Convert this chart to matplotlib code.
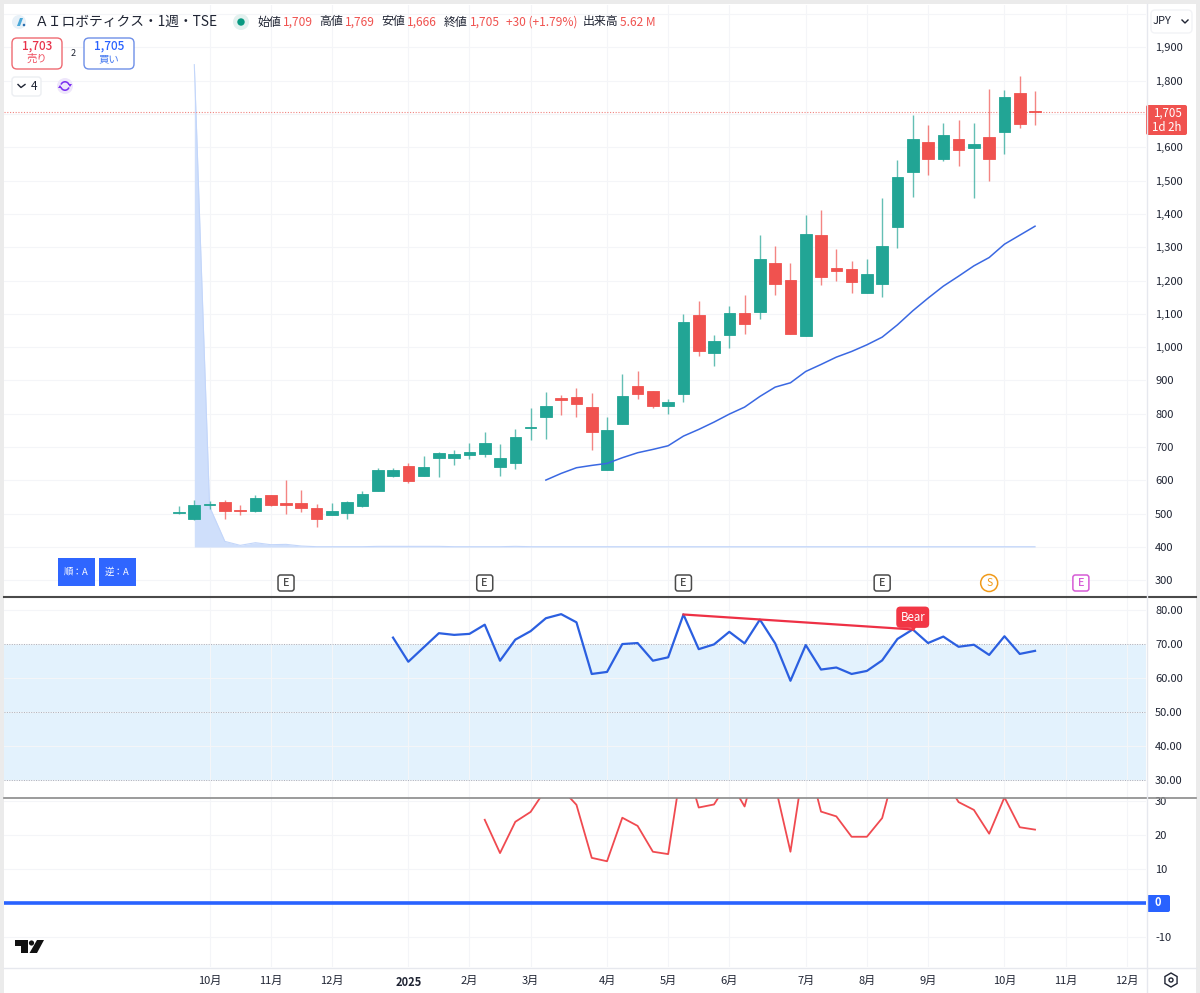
import numpy as np
import matplotlib
matplotlib.use('Agg')
import matplotlib.pyplot as plt
from matplotlib.patches import FancyBboxPatch, Rectangle, Circle, Polygon, RegularPolygon, Wedge

plt.rcParams['font.family'] = ['Noto Sans CJK JP', 'DejaVu Sans']

# ---------- data ----------
opens = [502,484,527,535,510,507,556,531,531,516,496,503,524,569,614,644,614,666,668,675,679,641,652,756,789,847,850,819,631,770,882,869,822,858,1097,983,1035,1103,1105,1252,1201,1033,1336,1239,1236,1163,1189,1362,1526,1616,1566,1626,1598,1632,1645,1764,1709]
highs = [523,541,539,540,527,555,556,600,570,528,531,537,568,636,638,651,674,685,690,713,745,708,755,818,866,857,877,862,791,920,929,869,845,1098,1139,1035,1123,1156,1338,1304,1252,1397,1412,1296,1260,1265,1447,1561,1696,1666,1672,1681,1672,1776,1773,1813,1769]
lows = [498,481,514,484,495,505,524,500,506,459,495,484,521,568,609,593,612,610,645,665,671,614,633,720,723,797,789,690,631,770,845,817,800,835,974,943,997,1040,1085,1157,1040,1033,1187,1198,1164,1163,1151,1297,1451,1517,1558,1544,1447,1498,1579,1659,1666]
closes = [505,527,528,507,509,546,526,526,517,484,508,535,560,630,630,599,640,682,680,684,713,667,731,761,823,841,829,745,751,854,858,824,836,1076,987,1018,1103,1070,1265,1190,1040,1340,1212,1229,1197,1219,1303,1511,1626,1564,1636,1591,1611,1566,1750,1671,1705]

ma_start = 24
ma_values = [601,621,638,645,651,668,683,693,704,733,753,775,799,820,852,880,893,927,948,970,987,1007,1030,1067,1109,1147,1183,1213,1244,1269,1309,1336,1363]

vol_start = 1
vol_values = [1848,521,417,405,413,407,408,403,401,401,401,401,402,402,402,402,402,401,401,401,401,402,401,401,401,401,401,401,401,401,401,401,401,401,401,401,401,401,401,401,401,401,401,401,401,401,401,401,401,401,401,401,401,401,401,401]

rsi_start = 14
rsi_values = [72.0,64.9,69.1,73.3,72.8,73.1,75.8,65.2,71.4,73.9,77.7,78.9,76.5,61.3,61.9,70.1,70.4,65.2,66.2,78.8,68.6,70.0,73.7,70.3,77.3,70.3,59.3,69.8,62.6,63.2,61.3,62.2,65.3,71.6,74.4,70.4,72.3,69.3,69.9,66.9,72.4,67.2,68.1]
trend_x = [33, 48]
trend_y = [78.8, 74.4]

osc_start = 20
osc_values = [24.6,14.8,24.0,26.9,33.6,33.8,29.0,13.4,12.4,25.2,22.8,15.2,14.5,43.5,28.2,29.1,36.2,28.5,45.0,34.7,15.2,44.5,27.0,25.6,19.6,19.6,25.1,42.0,40.0,40.0,37.0,29.8,27.5,20.5,31.2,22.4,21.7]

month_pos = [2,6,10,15,19,23,28,32,36,41,45,49,54,58,62]
month_labels = ['10月','11月','12月','2025','2月','3月','4月','5月','6月','7月','8月','9月','10月','11月','12月']
price_ticks = list(range(300, 2001, 100))
hidden_price_ticks = [1700, 2000]
rsi_ticks = [30,40,50,60,70,80]
osc_ticks = [-10,10,20,30]
earn_pos = [7,20,33,46,59]
split_pos = [53]
last_price = 1705

# ---------- colours ----------
GREEN = '#22a595'
RED = '#f0524f'
BLUE = '#2962ff'
GRID = '#f4f5f8'
TXT = '#1f2433'
W, H = 1200, 993

fig = plt.figure(figsize=(12, 9.93), dpi=100, facecolor='white')

def pane(top, bottom):
    a = fig.add_axes([4/W, 1-bottom/H, (1146-4)/W, (bottom-top)/H])
    a.set_xlim(-11.45, 63.26)
    for s in a.spines.values():
        s.set_visible(False)
    a.grid(True, color=GRID, lw=0.8)
    a.set_axisbelow(True)
    a.yaxis.tick_right()
    a.tick_params(axis='y', length=0, pad=6.5, labelsize=8, labelcolor=TXT)
    a.tick_params(axis='x', length=0, labelsize=8, labelcolor=TXT)
    a.set_xticks(month_pos)
    return a

# ---------- price pane ----------
ax1 = pane(5, 596.5)
ax1.set_ylim(251.5, 2027)
ax1.set_yticks(price_ticks)
ax1.set_yticklabels(['' if p in hidden_price_ticks else f'{p:,}' for p in price_ticks])
ax1.set_xticklabels([])

vx = np.arange(vol_start, vol_start + len(vol_values))
ax1.fill_between(vx, 400, vol_values, color='#cfdffb', lw=0, zorder=1)
ax1.plot(vx, vol_values, color='#c3d6fa', lw=0.8, zorder=1)

o, h, l, c = map(np.array, (opens, highs, lows, closes))
x = np.arange(len(o))
cols = [GREEN if ci >= oi else RED for oi, ci in zip(o, c)]
ax1.vlines(x, l, h, colors=cols, lw=1, alpha=0.7, zorder=2)
ax1.bar(x, np.abs(c-o), bottom=np.minimum(o, c), width=0.76, color=cols, edgecolor=cols, lw=0.6, zorder=3)
ax1.plot(np.arange(ma_start, ma_start+len(ma_values)), ma_values, color='#3a68e2', lw=1.1, zorder=4)
ax1.axhline(last_price, color='#f0837f', lw=0.8, ls=(0, (1, 1.5)), zorder=1.5)

# ---------- RSI pane ----------
ax2 = pane(597.5, 797)
ax2.set_ylim(25.1, 83.8)
ax2.set_yticks(rsi_ticks)
ax2.set_yticklabels([f'{v:.2f}' for v in rsi_ticks])
ax2.set_xticklabels([])
ax2.axhspan(30, 70, color='#e3f2fd', lw=0, zorder=0.5)
for v in (30, 50, 70):
    ax2.axhline(v, color='#a9adb8', lw=0.7, ls=(0, (1, 1.5)), zorder=1)
ax2.plot(np.arange(rsi_start, rsi_start+len(rsi_values)), rsi_values, color='#2b5fe0', lw=1.6, zorder=3)
ax2.plot(trend_x, trend_y, color='#ee3045', lw=1.6, zorder=4)
ax2.text(trend_x[1], 78, 'Bear', color='white', fontsize=8.3, ha='center', va='center', zorder=6,
         bbox=dict(boxstyle='round,pad=0.36', fc='#f23645', ec='none'))
ax2.plot(trend_x[1], trend_y[1] + 0.9, marker='v', ms=6, color='#f23645', zorder=5)

# ---------- oscillator pane ----------
ax3 = pane(798, 967)
ax3.set_ylim(-18.7, 31)
ax3.set_yticks(osc_ticks + [0])
ax3.set_yticklabels([str(v) for v in osc_ticks] + [''])
ax3.set_xticklabels(month_labels)
ax3.tick_params(axis='x', pad=6.5)
ax3.set_xlim(-11.45, 63.26)
for tick, lab in zip(ax3.get_xticklabels(), month_labels):
    if lab == '2025':
        tick.set_fontweight('bold')
ax3.plot(np.arange(osc_start, osc_start+len(osc_values)), osc_values, color='#f04a50', lw=1.3, zorder=3)
ax3.axhline(0, color=BLUE, lw=2.6, zorder=4)

# ---------- interface overlay (pixel coordinates) ----------
ov = fig.add_axes([0, 0, 1, 1], facecolor='none', zorder=20)
ov.set_xlim(0, W); ov.set_ylim(H, 0); ov.axis('off')

def t(px, py, s, size=8, color=TXT, ha='left', va='center', **kw):
    ov.text(px, py, s, fontsize=size, color=color, ha=ha, va=va, **kw)

def box(x0, y0, x1, y1, fc='white', ec='none', lw=1, r=3):
    ov.add_patch(FancyBboxPatch((x0+r, y0+r), x1-x0-2*r, y1-y0-2*r, boxstyle=f'round,pad={r},rounding_size={r}',
                                fc=fc, ec=ec, lw=lw, mutation_aspect=1))

# earnings / split badges follow the bar axis
def bar_px(i):
    return ax1.transData.transform((i, 0))[0] * W / fig.bbox.width

for i in earn_pos:
    col = '#d65bd6' if i > 56 else '#4a4a4a'
    px = bar_px(i)
    box(px-8, 575, px+8, 591, ec=col, lw=1.1, r=2.5)
    t(px, 582.6, 'E', size=7.8, color=col, ha='center', fontweight='medium')
for i in split_pos:
    col = '#f09a1a'
    px = bar_px(i)
    ov.add_patch(Circle((px, 583), 8.5, fc='white', ec=col, lw=1.1))
    t(px, 582.6, 'S', size=7.5, color=col, ha='center')

# page edges
EDGE = '#ebebeb'
ov.add_patch(Rectangle((0, 0), W, 4, fc=EDGE, ec='none'))
ov.add_patch(Rectangle((0, 0), 4, H, fc=EDGE, ec='none'))
ov.add_patch(Rectangle((1196, 0), 4, H, fc=EDGE, ec='none'))

# pane separators and axis borders
ov.plot([4, 1196], [597, 597], color='#4a4a4a', lw=1.5)
ov.plot([4, 1196], [797.5, 797.5], color='#8a8a8a', lw=1.2)
ov.plot([4, 1196], [967.5, 967.5], color='#e6e8ee', lw=1)
ov.plot([1146.5, 1146.5], [4, 993], color='#e6e8ee', lw=1)

# header
ov.add_patch(Circle((19, 22), 7, fc='#e8f1f8', ec='none'))
ov.add_patch(Polygon([(17, 26), (20, 18), (23, 18), (20, 26)], fc='#4aa8d8', ec='none'))
ov.add_patch(Circle((24, 25), 1.3, fc='#2a6fb0', ec='none'))
t(35, 22, 'ＡＩロボティクス・1週・TSE', size=9.9)
ov.add_patch(Circle((241, 22), 8, fc='#e3f1ef', ec='none'))
ov.add_patch(Circle((241, 22), 3.7, fc='#089981', ec='none'))
for px, s, col in [(257, '始値', TXT), (283, '1,709', RED), (319, '高値', TXT), (345, '1,769', RED),
                   (381, '安値', TXT), (407, '1,666', RED), (444, '終値', TXT), (470, '1,705', RED),
                   (506, '+30 (+1.79%)', RED), (583, '出来高', TXT), (620, '5.62 M', RED)]:
    t(px, 22, s, size=8.6, color=col)

# order buttons
box(12, 38, 62, 69, ec='#ef6a72', lw=1, r=5)
t(37, 46, '1,703', size=8.5, color='#e8324a', ha='center', fontweight='medium')
t(37, 59, '売り', size=7.5, color='#ef5060', ha='center')
t(73, 53.5, '2', size=6.5, ha='center')
box(84, 38, 134, 69, ec='#6e8fe8', lw=1, r=5)
t(109, 46, '1,705', size=8.5, color='#2962ff', ha='center', fontweight='medium')
t(109, 59, '買い', size=7.5, color='#4a7cf0', ha='center')
box(12, 77, 41, 96, ec='#eceef2', lw=1, r=3)
ov.plot([18, 21, 25], [84.5, 87.5, 84.5], color=TXT, lw=1)
t(31, 86.5, '4', size=8.5)
ov.add_patch(Circle((65, 86), 8, fc='#eee6fb', ec='none'))
ov.add_patch(Wedge((65, 86), 5, 20, 160, width=1.6, fc='#7b2ff0', ec='none'))
ov.add_patch(Wedge((65, 86), 5, 200, 340, width=1.6, fc='#7b2ff0', ec='none'))
ov.add_patch(Polygon([(68, 84), (72, 84), (70, 87)], fc='#7b2ff0', ec='none'))
ov.add_patch(Polygon([(58, 88), (62, 88), (60, 85)], fc='#7b2ff0', ec='none'))

# right-hand labels
box(1151, 10, 1192, 33, fc='white', ec='#f2f3f6', lw=1, r=4)
t(1153, 20.5, 'JPY', size=8)
ov.plot([1182, 1185, 1188], [20, 23, 20], color=TXT, lw=1)
box(1146, 105, 1187, 135, fc=RED, r=2)
t(1167, 120, f'{last_price:,}\n1d 2h', size=8.3, color='white', ha='center', linespacing=1.15)
box(1147, 895, 1170, 912, fc=BLUE, r=2)
t(1158, 903, '0', size=8, color='white', ha='center', fontweight='bold')

# order-type tags
ov.add_patch(Rectangle((58, 558), 37, 28, fc='#2f66ff', ec='none'))
ov.add_patch(Rectangle((99, 558), 37, 28, fc='#2f66ff', ec='none'))
t(76.5, 572, '順：A', size=6.8, color='white', ha='center')
t(117.5, 572, '逆：A', size=6.8, color='white', ha='center')

# TradingView mark
ov.add_patch(Polygon([(15, 940), (28, 940), (28, 953), (21, 953), (21, 946), (15, 946)], fc='#111111', ec='none'))
ov.add_patch(Circle((31.5, 943), 2.6, fc='#111111', ec='none'))
ov.add_patch(Polygon([(37, 940), (44, 940), (37, 953), (29.5, 953)], fc='#111111', ec='none'))

# settings icon
ov.add_patch(RegularPolygon((1171, 980), 6, radius=7, fc='none', ec=TXT, lw=1))
ov.add_patch(Circle((1171, 980), 2, fc='none', ec=TXT, lw=1))

fig.savefig('out.png', dpi=100)
